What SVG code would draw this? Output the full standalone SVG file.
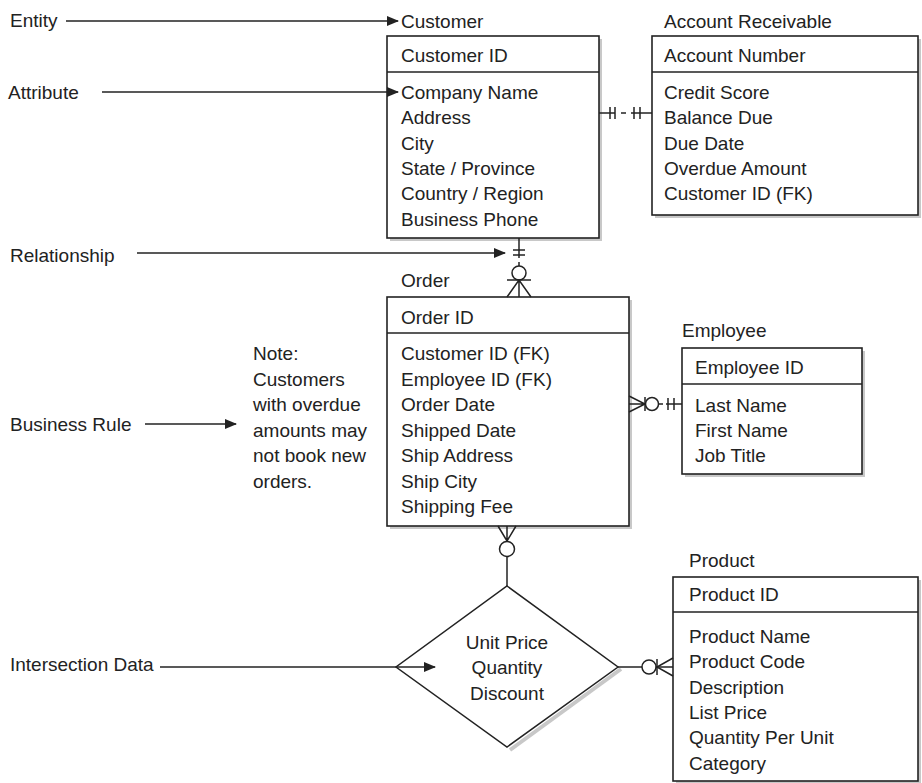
<svg xmlns="http://www.w3.org/2000/svg" width="922" height="783" viewBox="0 0 922 783">
<defs>
<marker id="arr" markerWidth="12" markerHeight="10" refX="11" refY="5" orient="auto" markerUnits="userSpaceOnUse">
<path d="M0,0 L12,5 L0,10 Z" fill="#222"/>
</marker>
<style>
text{font-family:"Liberation Sans",Arial,sans-serif;font-size:19px;fill:#222}
.box{fill:#fff;stroke:#222;stroke-width:1.6}
.sh{fill:#c8c8c8}
.ln{stroke:#222;stroke-width:1.5;fill:none}
.c{fill:#fff;stroke:#222;stroke-width:1.5}
.mid{text-anchor:middle}
</style>
</defs>
<rect width="922" height="783" fill="#fff"/>

<g id="labels">
<text x="10" y="27">Entity</text>
<text x="8" y="99">Attribute</text>
<text x="10" y="262">Relationship</text>
<text x="10" y="431">Business Rule</text>
<text x="10" y="671">Intersection Data</text>
</g>

<g id="customer">
<text x="401" y="28">Customer</text>
<rect class="sh" x="390" y="39" width="212" height="202"/>
<rect class="box" x="387" y="36" width="212" height="202"/>
<line class="ln" x1="387" y1="72" x2="599" y2="72"/>
<text x="401" y="62">Customer ID</text>
<text x="401" y="99">Company Name</text>
<text x="401" y="124">Address</text>
<text x="401" y="150">City</text>
<text x="401" y="175">State / Province</text>
<text x="401" y="200">Country / Region</text>
<text x="401" y="226">Business Phone</text>
</g>

<g id="account-receivable">
<text x="664" y="28">Account Receivable</text>
<rect class="sh" x="655" y="39" width="266" height="179"/>
<rect class="box" x="652" y="36" width="266" height="179"/>
<line class="ln" x1="652" y1="72" x2="918" y2="72"/>
<text x="664" y="62">Account Number</text>
<text x="664" y="99">Credit Score</text>
<text x="664" y="124">Balance Due</text>
<text x="664" y="150">Due Date</text>
<text x="664" y="175">Overdue Amount</text>
<text x="664" y="200">Customer ID (FK)</text>
</g>

<g id="order">
<text x="401" y="287">Order</text>
<rect class="sh" x="390" y="300" width="242" height="229"/>
<rect class="box" x="387" y="297" width="242" height="229"/>
<line class="ln" x1="387" y1="333" x2="629" y2="333"/>
<text x="401" y="324">Order ID</text>
<text x="401" y="360">Customer ID (FK)</text>
<text x="401" y="386">Employee ID (FK)</text>
<text x="401" y="411">Order Date</text>
<text x="401" y="437">Shipped Date</text>
<text x="401" y="462">Ship Address</text>
<text x="401" y="488">Ship City</text>
<text x="401" y="513">Shipping Fee</text>
</g>

<g id="note">
<text x="253" y="360">Note:</text>
<text x="253" y="386">Customers</text>
<text x="253" y="411">with overdue</text>
<text x="253" y="437">amounts may</text>
<text x="253" y="462">not book new</text>
<text x="253" y="488">orders.</text>
</g>

<g id="employee">
<text x="682" y="337">Employee</text>
<rect class="sh" x="685" y="351" width="180" height="126"/>
<rect class="box" x="682" y="348" width="180" height="126"/>
<line class="ln" x1="682" y1="384" x2="862" y2="384"/>
<text x="695" y="374">Employee ID</text>
<text x="695" y="412">Last Name</text>
<text x="695" y="437">First Name</text>
<text x="695" y="462">Job Title</text>
</g>

<g id="product">
<text x="689" y="567">Product</text>
<rect class="sh" x="676" y="580" width="245" height="204"/>
<rect class="box" x="673" y="577" width="245" height="204"/>
<line class="ln" x1="673" y1="612" x2="918" y2="612"/>
<text x="689" y="601">Product ID</text>
<text x="689" y="643">Product Name</text>
<text x="689" y="668">Product Code</text>
<text x="689" y="694">Description</text>
<text x="689" y="719">List Price</text>
<text x="689" y="744">Quantity Per Unit</text>
<text x="689" y="770">Category</text>
</g>

<g id="intersection">
<path d="M510,750 L621,669" stroke="#c8c8c8" stroke-width="4" fill="none"/>
<path d="M507,586 L618,667 L507,747 L396,667 Z" fill="#fff" stroke="#222" stroke-width="1.5"/>
<text class="mid" x="507" y="649">Unit Price</text>
<text class="mid" x="507" y="674">Quantity</text>
<text class="mid" x="507" y="700">Discount</text>
</g>

<g id="connectors">
<line class="ln" x1="66" y1="21" x2="398" y2="21" marker-end="url(#arr)"/>
<line class="ln" x1="102" y1="92" x2="398" y2="92" marker-end="url(#arr)"/>
<line class="ln" x1="137" y1="253" x2="505" y2="253" marker-end="url(#arr)"/>
<line class="ln" x1="145" y1="424" x2="236" y2="424" marker-end="url(#arr)"/>
<line class="ln" x1="160" y1="667" x2="435" y2="667" marker-end="url(#arr)"/>

<line class="ln" x1="599" y1="113" x2="615" y2="113"/>
<line class="ln" x1="610" y1="107" x2="610" y2="119"/>
<line class="ln" x1="615" y1="107" x2="615" y2="119"/>
<line class="ln" x1="621" y1="113" x2="626" y2="113"/>
<line class="ln" x1="631" y1="113" x2="652" y2="113"/>
<line class="ln" x1="634" y1="107" x2="634" y2="119"/>
<line class="ln" x1="640" y1="107" x2="640" y2="119"/>

<line class="ln" x1="519" y1="238" x2="519" y2="258"/>
<line class="ln" x1="513" y1="250" x2="525" y2="250"/>
<line class="ln" x1="513" y1="255" x2="525" y2="255"/>
<line class="ln" x1="519" y1="262" x2="519" y2="266"/>
<circle class="c" cx="519" cy="273" r="7"/>
<line class="ln" x1="507" y1="280" x2="531" y2="280"/>
<path class="ln" d="M507,297 L519,280 L531,297 M519,280 L519,297"/>

<path class="ln" d="M629,396 L645,404 L629,412 M629,404 L645,404"/>
<line class="ln" x1="645" y1="397" x2="645" y2="411"/>
<circle class="c" cx="652" cy="404" r="6.5"/>
<line class="ln" x1="659" y1="404" x2="663" y2="404"/>
<line class="ln" x1="666" y1="404" x2="682" y2="404"/>
<line class="ln" x1="668" y1="398" x2="668" y2="410"/>
<line class="ln" x1="674" y1="398" x2="674" y2="410"/>

<path class="ln" d="M498,526 L507,541 L516,526 M507,526 L507,541"/>
<circle class="c" cx="507" cy="549" r="7.5"/>
<line class="ln" x1="507" y1="556.5" x2="507" y2="586"/>

<line class="ln" x1="618" y1="667" x2="642" y2="667"/>
<circle class="c" cx="649" cy="667" r="7"/>
<line class="ln" x1="656" y1="667" x2="673" y2="667"/>
<line class="ln" x1="657" y1="659" x2="657" y2="675"/>
<path class="ln" d="M673,658 L657,667 L673,676"/>
</g>
</svg>
